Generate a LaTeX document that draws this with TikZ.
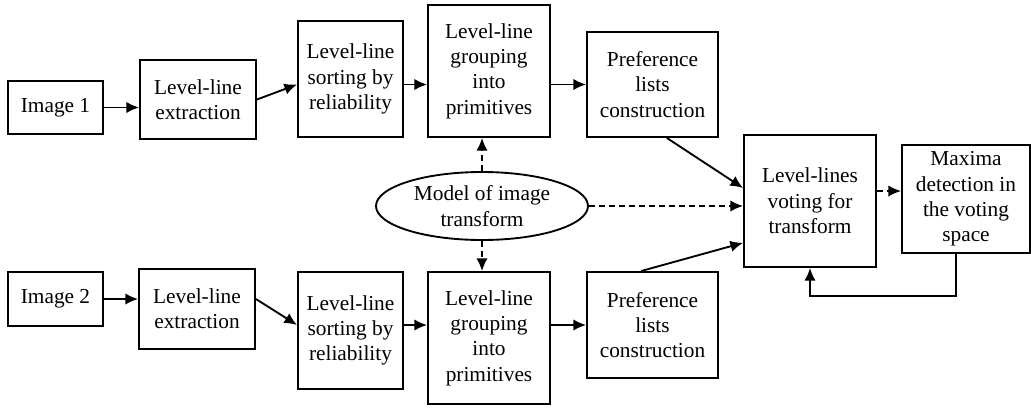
\documentclass[tikz,border=0pt]{standalone}
\usepackage{fontspec}
\setmainfont{Liberation Serif}
\usetikzlibrary{arrows.meta,shapes.geometric}

\tikzset{
  blk/.style={draw, line width=1.4pt, align=center, inner sep=2pt},
  arr/.style={-{Latex[length=9.5pt,width=8.5pt]}, line width=1.4pt},
  darr/.style={arr, dash pattern=on 4.5pt off 3pt},
}

\begin{document}
\begin{tikzpicture}[x=0.75pt,y=-0.75pt,font=\fontsize{16}{19}\selectfont]
        \useasboundingbox (0,0) rectangle (1031,408);
        % upper chain
        \node[blk, minimum width=71.25pt, minimum height=40pt] (img1) at (55.5,107.5) {Image 1};
        \node[blk, minimum width=87pt, minimum height=59pt] (ext1) at (198,99.5) {Level-line\\extraction};
        \node[blk, minimum width=78.75pt, minimum height=87pt] (sort1) at (350.5,79) {Level-line\\sorting by\\reliability};
        \node[blk, minimum width=91.5pt, minimum height=99pt] (grp1) at (489,71) {Level-line\\grouping\\into\\primitives};
        \node[blk, minimum width=98.25pt, minimum height=78.75pt] (pref1) at (652.5,84.5) {Preference\\lists\\construction};
        % lower chain
        \node[blk, minimum width=71.25pt, minimum height=40.5pt] (img2) at (55.5,299) {Image 2};
        \node[blk, minimum width=87pt, minimum height=60pt] (ext2) at (197,309) {Level-line\\extraction};
        \node[blk, minimum width=78.75pt, minimum height=87.75pt] (sort2) at (350.5,330.5) {Level-line\\sorting by\\reliability};
        \node[blk, minimum width=91.5pt, minimum height=99pt] (grp2) at (489,338) {Level-line\\grouping\\into\\primitives};
        \node[blk, minimum width=98.25pt, minimum height=79.5pt] (pref2) at (652.5,325) {Preference\\lists\\construction};
        % model, voting, maxima
        \node[draw, ellipse, line width=1.4pt, align=center, inner sep=0pt, minimum width=159pt, minimum height=51pt] (model) at (482,206) {Model of image\\transform};
        \node[blk, minimum width=99pt, minimum height=99pt] (vote) at (810,201) {Level-lines\\voting for\\transform};
        \node[blk, minimum width=96pt, minimum height=81pt] (max) at (966,199) {Maxima\\detection in\\the voting\\space};
        \coordinate (loop) at (810,296);

        \draw[arr] (img1.east) -- (img1.east -| ext1.west);
        \draw[arr] (ext1.east) -- (sort1.west |- pref1.west);
        \draw[arr] (sort1.east |- pref1.west) -- (grp1.west |- pref1.west);
        \draw[arr] (grp1.east |- pref1.west) -- (pref1.west);
        \draw[arr] (img2.east) -- (img2.east -| ext2.west);
        \draw[arr] (ext2.east |- img2.east) -- (sort2.west |- pref2.west);
        \draw[arr] (sort2.east |- pref2.west) -- (grp2.west |- pref2.west);
        \draw[arr] (grp2.east |- pref2.west) -- (pref2.west);
        \draw[arr] (pref1.285) -- (vote.169);
        \draw[arr] (pref2.102) -- (vote.212);
        \draw[darr] (model.north) -- (model.north |- grp1.south);
        \draw[darr] (model.south) -- (model.south |- grp2.north);
        \draw[darr] (model.east) -- (model.east -| vote.west);
        \draw[darr] (vote.east |- max.173) -- (max.173);
        \draw[arr] (max.260) |- (loop) -- (vote.south);
    \end{tikzpicture}
\end{document}
